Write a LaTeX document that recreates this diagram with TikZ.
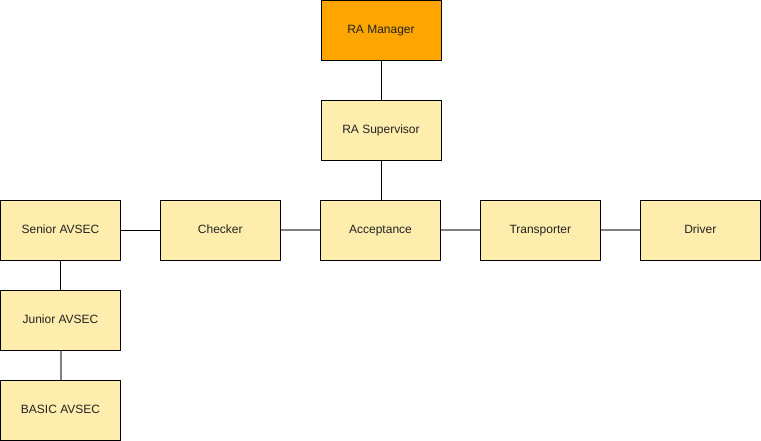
\documentclass[tikz,border=0pt]{standalone}
\usepackage{fontspec}
\setmainfont{Liberation Sans}
\definecolor{boxfill}{HTML}{FFEDAD}
\definecolor{mgrfill}{HTML}{FFA500}
\definecolor{linegray}{HTML}{808080}
\definecolor{txt}{HTML}{222222}
\begin{document}
\begin{tikzpicture}[x=1pt,y=-1pt,
  box/.style={draw=black,line width=1pt,fill=boxfill,minimum width=120pt,minimum height=60pt,inner sep=0pt,text height=9pt,text depth=3pt,font=\fontsize{12pt}{14pt}\selectfont,text=txt},
  blk/.style={draw=black,line width=1pt},
  gry/.style={draw=linegray,line width=2pt}]
\useasboundingbox (0,0) rectangle (761,441);
\node[box,fill=mgrfill] (mgr) at (381,30.5) {RA Manager};
\node[box] (sup) at (381,130.5) {RA Supervisor};
\node[box] (acc) at (380.5,230.2) {Acceptance};
\node[box] (sen) at (60.5,230.2) {Senior AVSEC};
\node[box] (chk) at (220.3,230.2) {Checker};
\node[box] (trn) at (540.3,230.2) {Transporter};
\node[box] (drv) at (700.3,230.2) {Driver};
\node[box] (jun) at (60.5,320.2) {Junior AVSEC};
\node[box] (bas) at (60.5,410.2) {BASIC AVSEC};
\draw[blk] (mgr) -- (sup);
\draw[blk] (sup.south) -- (sup.south |- acc.north);
\draw[blk] (sen) -- (chk);
\draw[gry] (chk) -- (acc);
\draw[gry] (acc) -- (trn);
\draw[gry] (trn) -- (drv);
\draw[blk] (sen) -- (jun);
\draw[gry] (jun) -- (bas);
\end{tikzpicture}
\end{document}
